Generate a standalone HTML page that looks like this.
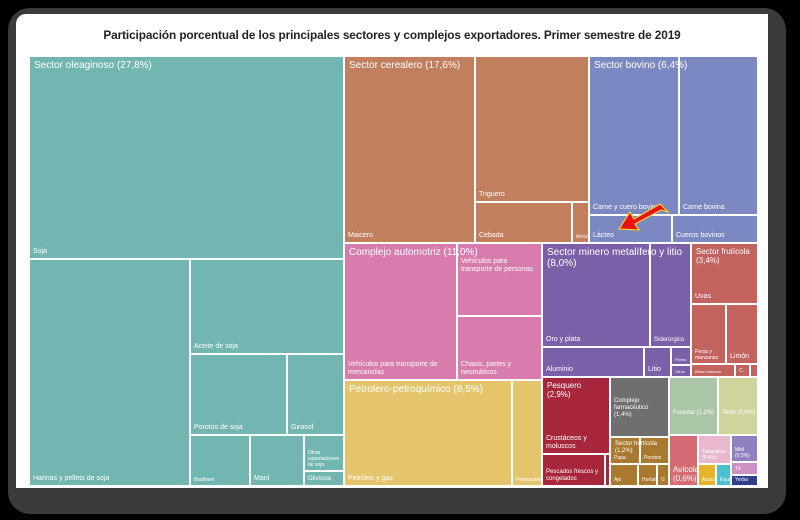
<!DOCTYPE html>
<html><head><meta charset="utf-8">
<style>
html,body{margin:0;padding:0;background:#000;width:800px;height:520px;overflow:hidden;font-family:"Liberation Sans",sans-serif}
#frame{position:absolute;left:8px;top:8px;width:778px;height:506px;background:#3b3b3b;border-radius:22px}
#card{position:absolute;left:16px;top:14px;width:752px;height:474px;background:#fff;border-radius:10px 0 0 0}
#title{position:absolute;left:16px;top:28px;width:752px;text-align:center;font-weight:bold;font-size:11.8px;color:#222;letter-spacing:-0.1px}
#tm{position:absolute;left:30px;top:57px;width:727px;height:428px}
.leaf{position:absolute;box-sizing:border-box;overflow:hidden;color:#fff}
.lab{position:absolute;left:3px;right:2px;bottom:2px;font-size:7px;line-height:8px;color:#fff}
.hdr{position:absolute;font-size:10px;line-height:11px;color:#fff;padding:3px 4px;white-space:normal}
</style></head><body>
<div id="frame"></div>
<div id="card"></div>
<div id="title">Participación porcentual de los principales sectores y complejos exportadores. Primer semestre de 2019</div>
<div id="tm"></div>
<svg style="position:absolute;left:0;top:0" width="800" height="520">
<polygon points="668,212 660,204 634,219 630,212 619,229 639,230 635,224 661,210" fill="#e8121b" stroke="#f5d12a" stroke-width="1.2"/>
</svg>
<script>
// leaf names, weights (area share) and colors
const sectorNames=["Sector oleaginoso (27,8%)","Sector cerealero (17,6%)","Sector bovino (6,4%)","Complejo automotriz (11,0%)","Petrolero-petroquímico (8,5%)","Sector minero metalífero y litio (8,0%)","Sector frutícola (3,4%)","Pesquero (2,9%)","Sector hortícola (1,2%)"];
const sectorPct=[27.8,17.6,6.4,11.0,8.5,8.0,3.4,2.9,1.2];
const T=(dir,children,hdr)=>({dir,children,hdr});
const L=(name,value,color,opt)=>Object.assign({name,value,color},opt||{});
const C={ole:"#72b6b1",cer:"#c27f5d",bov:"#7c88c1",aut:"#d77cad",pet:"#e4c56c",min:"#7b5fa8",fru:"#c2635f",pes:"#a8263b",far:"#6f6f6f","for":"#abc5a7",tex:"#d0d49c",hor:"#a8792f",avi:"#d66b73"};
const tree=T("x",[
 T("y",[
  L("Soja",602,C.ole),
  T("x",[
   L("Harinas y pellets de soja",344,C.ole),
   T("y",[
    L("Aceite de soja",138,C.ole),
    T("x",[L("Porotos de soja",74,C.ole),L("Girasol",43,C.ole)]),
    T("x",[L("Biodiesel",29,C.ole,{fs:5}),L("Maní",26,C.ole),
      T("y",[L("Otras exportaciones de soja",13.5,C.ole,{fs:5}),L("Olivícola",5,C.ole,{fs:6})])])
   ])
  ])
 ],sectorNames[0]+"|0"),
 T("y",[
  T("x",[
   T("x",[
    L("Maicero",232,C.cer),
    T("y",[L("Triguero",157,C.cer),T("x",[L("Cebada",37,C.cer),L("Arroz",6,C.cer,{fs:5})])])
   ],sectorNames[1]+"|1"),
   T("y",[
    T("x",[L("Carne y cuero bovinos",136,C.bov),L("Carne bovina",118,C.bov)]),
    T("x",[L("Lácteo",21,C.bov),L("Cueros bovinos",22,C.bov)])
   ],sectorNames[2]+"|2")
  ]),
  T("x",[
   T("y",[
    T("x",[L("Vehículos para transporte de mercancías",146,C.aut),
      T("y",[L("Vehículos para transporte de personas",58,C.aut,{top:1}),L("Chasis, partes y neumáticos",51,C.aut)])],sectorNames[3]+"|3"),
    T("x",[L("Petróleo y gas",169,C.pet),L("Petroquímico",29,C.pet,{fs:5})],sectorNames[4]+"|4")
   ]),
   T("y",[
    T("x",[
     T("y",[
      T("x",[L("Oro y plata",109,C.min),L("Siderúrgico",40,C.min,{fs:6})]),
      T("x",[L("Aluminio",28,C.min),L("Litio",7,C.min),T("y",[L("Plomo",3.2,C.min,{fs:4}),L("Otros",1.9,C.min,{fs:4})])])
     ],sectorNames[5]+"|5"),
     T("y",[
      L("Uvas",39,C.fru),
      T("x",[L("Peras y manzanas",20,C.fru,{fs:5}),L("Limón",18,C.fru)]),
      T("x",[L("Resto frutícola",4.8,C.fru,{fs:4}),L("C.",1.5,C.fru,{fs:5}),L("",0.7,C.fru)])
     ],sectorNames[6]+"|6")
    ]),
    T("x",[
     T("y",[L("Crustáceos y moluscos",49,C.pes),T("x",[L("Pescados frescos y congelados",19,C.pes,{fs:6}),L("",1,C.pes)])],sectorNames[7]+"|7"),
     T("y",[
      L("Complejo farmacéutico (1,4%)",33,C.far,{fs:6,mid:1}),
      T("y",[T("x",[L("Papa",7.6,C.hor,{fs:5}),L("Porotos",7.3,C.hor,{fs:5})]),
             T("x",[L("Ajo",5.7,C.hor,{fs:5}),L("Hortalizas",3.7,C.hor,{fs:5}),L("G",2.4,C.hor,{fs:5})])],sectorNames[8]+"|8")
     ]),
     T("y",[
      T("x",[L("Forestal (1,1%)",27,C["for"],{fs:6,mid:1}),L("Textil (0,9%)",22,C.tex,{fs:6,mid:1})]),
      T("x",[L("Avícola (0,6%)",14,C.avi,{fs:8}),
        T("x",[
         T("y",[L("Tabacalero (0,4%)",9.2,"#e8b8cf",{fs:5}),T("x",[L("Azucarero",3.9,"#e6b42b",{fs:5}),L("Equino",3.2,"#4cbfcf",{fs:5})])]),
         T("y",[L("Miel (0,5%)",7.3,"#8f80c1",{fs:5}),L("Té",3.1,"#cd90c4",{fs:5}),L("Yerba",2.6,"#2f3f8b",{fs:5})])
        ])])
     ])
    ])
   ])
  ])
 ])
]);
const GAP=2;
const tm=document.getElementById('tm');
function sum(n){return n.children?n.children.reduce((a,c)=>a+sum(c),0):n.value;}
function layout(n,x,y,w,h){
  if(!n.children){
    const d=document.createElement('div');
    d.className='leaf';
    
    
    d.style.cssText=`left:${x}px;top:${y}px;width:${w}px;height:${h}px;background:${n.color}`;
    if(n.name){const s=document.createElement('div');s.className='lab';s.textContent=n.name;
      if(n.fs){s.style.fontSize=n.fs+'px';s.style.lineHeight=(n.fs+1)+'px';}
      if(n.top){s.style.bottom='auto';s.style.top='14px';}
      if(n.mid){s.style.bottom=Math.max(2,h*0.3)+'px';}
      d.appendChild(s);}
    tm.appendChild(d);return;
  }
  const tot=sum(n),len=(n.dir==='x'?w:h)-GAP*(n.children.length-1);
  let p=0;
  n.children.forEach((c,i)=>{
    const s=i===n.children.length-1?len-p:Math.round(len*sum(c)/tot);
    if(n.dir==='x')layout(c,x+p+i*GAP,y,s,h);else layout(c,x,y+p+i*GAP,w,s);
    p+=s;
  });
  if(n.hdr){
    const [txt,idx]=n.hdr.split('|');
    const hd=document.createElement('div');
    hd.className='hdr';
    
    
    hd.textContent=txt;
    hd.style.left=x+'px';hd.style.top=y+'px';hd.style.maxWidth=(idx==='7'||idx==='8'||idx==='6'?w-6:w+200)+'px';
    if(idx==='7'||idx==='8'||idx==='6'){hd.style.fontSize=(idx==='8'?'6px':'8px');hd.style.lineHeight=(idx==='8'?'7px':'9px');}
    if(idx==='5')hd.style.maxWidth=(w-6)+'px';
    tm.appendChild(hd);
  }
}
layout(tree,0,0,727,428);
</script>
</body></html>
